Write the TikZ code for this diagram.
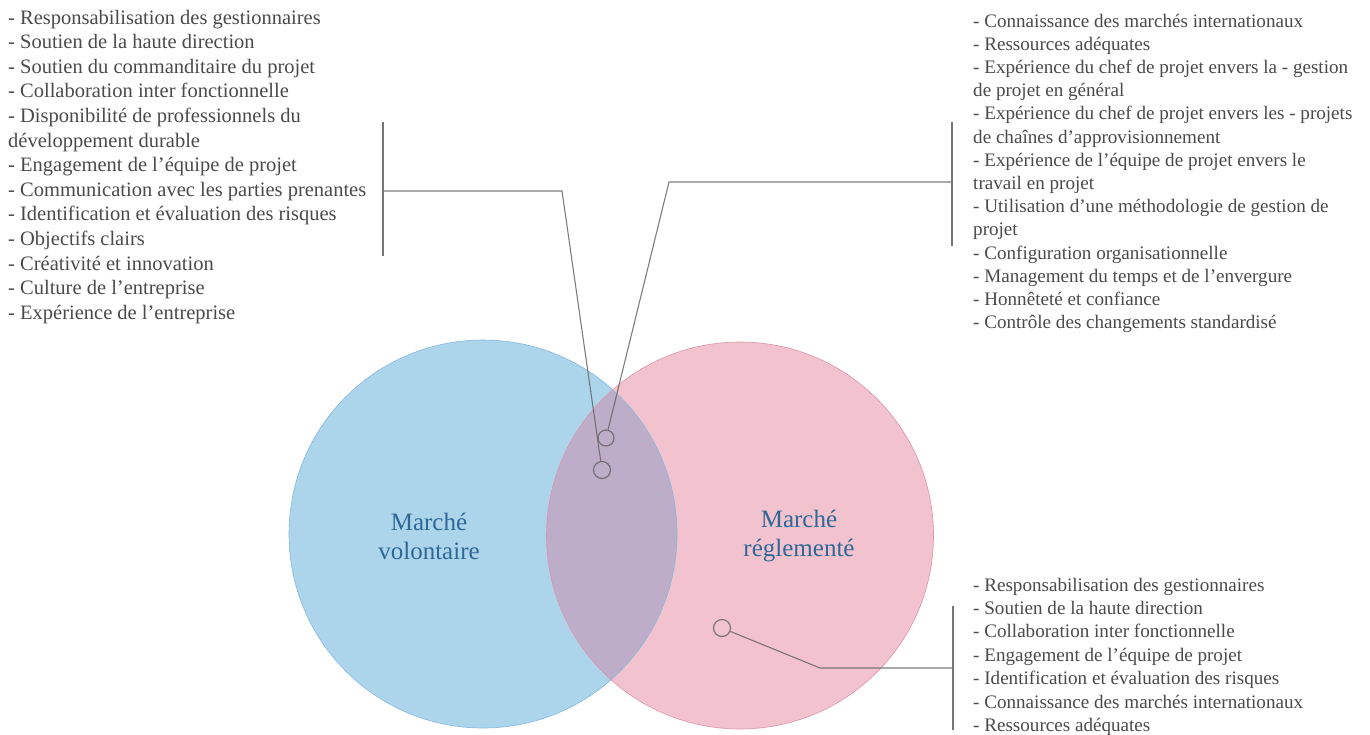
\documentclass[tikz,border=0pt]{standalone}
\usepackage{fontspec}
\setmainfont{Liberation Serif}
\definecolor{txtgrey}{HTML}{4A4A4A}
\definecolor{lblblue}{HTML}{2F6796}
\definecolor{volfill}{HTML}{ACD5EC}
\definecolor{voledge}{HTML}{86B9DD}
\definecolor{regfill}{HTML}{F2C3CE}
\definecolor{regedge}{HTML}{DC95AA}
\definecolor{bothfill}{HTML}{BEADC9}
\definecolor{linegrey}{HTML}{666666}
\begin{document}
\begin{tikzpicture}[x=1pt,y=-1pt,
  listtext/.style={anchor=base west,inner sep=0pt,align=left,text=txtgrey,
    font=\fontsize{19.1}{24.6}\selectfont},
  marketlabel/.style={align=center,inner sep=0pt,text=lblblue,
    font=\fontsize{25}{29}\selectfont},
  pin/.style={circle,draw=linegrey,line width=1.2pt,inner sep=0pt,minimum size=17pt,draw opacity=0.85},
  leader/.style={draw=linegrey,line width=1.1pt,draw opacity=0.85,line join=miter},
  bracket/.style={draw=linegrey!90,line width=2.4pt}]
\useasboundingbox (0,0) rectangle (1370,734);

% two markets and their common part
\fill[volfill] (483,534) circle (194);
\fill[regfill] (740,535.5) circle (193.5);
\begin{scope}
  \clip (483,534) circle (194);
  \fill[bothfill] (740,535.5) circle (193.5);
\end{scope}
\draw[voledge,line width=0.6pt] (483,534) circle (194);
\draw[regedge,line width=0.6pt] (740,535.5) circle (193.5);

\node[marketlabel] (vol) at (429,536) {Marché\\volontaire};
\node[marketlabel] (reg) at (799,536) {Marché\\réglementé};

% pins
\node[pin] (pinA) at (602,470) {};
\node[pin,minimum size=16pt] (pinB) at (606,438) {};
\node[pin] (pinC) at (722,628) {};

% bracket ends and elbows
\coordinate (kA) at (562,191);
\coordinate (bA) at (383,191);
\coordinate (bAt) at (383,122);
\coordinate (bAb) at (383,256);
\coordinate (kB) at (669,182);
\coordinate (bB) at (952,182);
\coordinate (bBt) at (952,122);
\coordinate (bBb) at (952,246);
\coordinate (kC) at (820,668);
\coordinate (bC) at (953,668);
\coordinate (bCt) at (953,606);
\coordinate (bCb) at (953,730);

\draw[leader] (pinA) -- (kA) -- (bA);
\draw[leader] (pinB) -- (kB) -- (bB);
\draw[leader] (pinC) -- (kC) -- (bC);
\draw[bracket] (bAt) -- (bAb);
\draw[bracket] (bBt) -- (bBb);
\draw[bracket] (bCt) -- (bCb);

% factor lists (anchored at the baseline of their last line)
\node[listtext,font=\fontsize{20.5}{24.6}\selectfont] (listA) at (8,319.2) {- Responsabilisation des gestionnaires\\
- Soutien de la haute direction\\
- Soutien du commanditaire du projet\\
- Collaboration inter fonctionnelle\\
- Disponibilité de professionnels du\\
développement durable\\
- Engagement de l’équipe de projet\\
- Communication avec les parties prenantes\\
- Identification et évaluation des risques\\
- Objectifs clairs\\
- Créativité et innovation\\
- Culture de l’entreprise\\
- Expérience de l’entreprise};

\node[listtext,font=\fontsize{19.1}{23.2}\selectfont] (listB) at (973,328.6) {- Connaissance des marchés internationaux\\
- Ressources adéquates\\
- Expérience du chef de projet envers la - gestion\\
de projet en général\\
- Expérience du chef de projet envers les - projets\\
de chaînes d’approvisionnement\\
- Expérience de l’équipe de projet envers le\\
travail en projet\\
- Utilisation d’une méthodologie de gestion de\\
projet\\
- Configuration organisationnelle\\
- Management du temps et de l’envergure\\
- Honnêteté et confiance\\
- Contrôle des changements standardisé};

\node[listtext,font=\fontsize{19.1}{23.4}\selectfont] (listC) at (973,731.5) {- Responsabilisation des gestionnaires\\
- Soutien de la haute direction\\
- Collaboration inter fonctionnelle\\
- Engagement de l’équipe de projet\\
- Identification et évaluation des risques\\
- Connaissance des marchés internationaux\\
- Ressources adéquates};
\end{tikzpicture}
\end{document}
